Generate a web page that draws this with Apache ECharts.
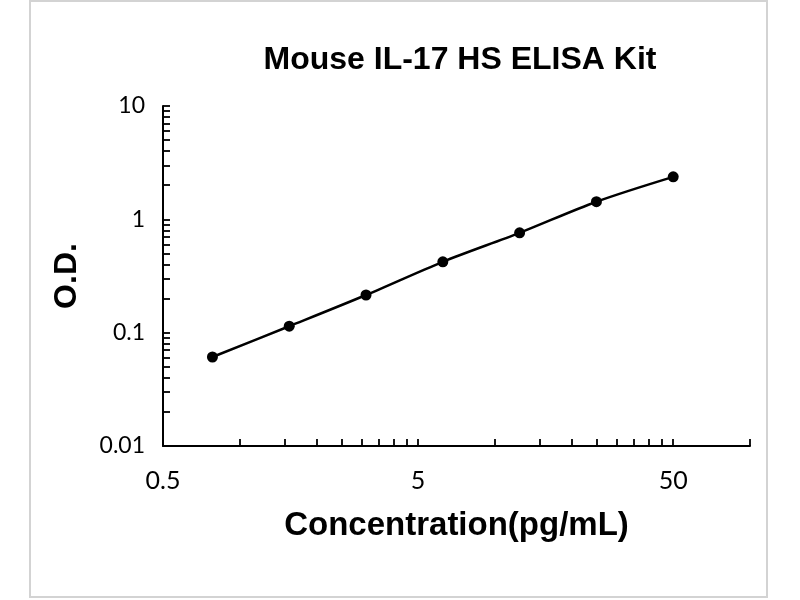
<!DOCTYPE html>
<html>
<head>
<meta charset="utf-8">
<script src="https://cdn.jsdelivr.net/npm/echarts@6/dist/echarts.min.js"></script>
<style>
  html, body { margin: 0; padding: 0; background: #ffffff; }
  #chart { width: 800px; height: 600px; }
</style>
</head>
<body>
<div id="chart"></div>
<script>
// ---- data ----
const title = 'Mouse IL-17 HS ELISA Kit';
const xName = 'Concentration(pg/mL)';
const yName = 'O.D.';
const concentrations = [0.78125, 1.5625, 3.125, 6.25, 12.5, 25, 50];
const odValues = [0.061, 0.114, 0.215, 0.422, 0.76, 1.43, 2.37];
const xTickLabels = [0.5, 5, 50];
const yTickLabels = [0.01, 0.1, 1, 10];
const xAxisMin = 0.5;
const xAxisMax = 100;
const yAxisMin = 0.01;
const yAxisMax = 10;

// ---- helpers ----
const lg = v => Math.log10(v);
function minorTicks(min, max) {
  // log-scale minor ticks: k * start for each decade starting at min
  const out = [];
  let base = min;
  while (base < max * 1.0001) {
    for (let k = 1; k <= 9; k++) {
      const v = base * k;
      if (v <= max * 1.0001) out.push(lg(v));
    }
    base *= 10;
  }
  return out;
}
function labelFor(list) {
  return function (v) {
    let best = list[0], d = Infinity;
    list.forEach(t => { const dd = Math.abs(lg(t) - v); if (dd < d) { d = dd; best = t; } });
    return String(best);
  };
}

const seriesData = concentrations.map((c, i) => [lg(c), lg(odValues[i])]);

const chart = echarts.init(document.getElementById('chart'), null, { renderer: 'canvas' });
chart.setOption({
  animation: false,
  backgroundColor: '#ffffff',
  title: {
    text: title,
    left: 455,
    top: 39,
    textAlign: 'center',
    textStyle: { fontFamily: 'Liberation Sans', fontWeight: 'bold', fontSize: 32, color: '#000' }
  },
  graphic: [{
    type: 'rect',
    silent: true,
    shape: { x: 30, y: 1, width: 737, height: 596 },
    style: { fill: 'none', stroke: '#d3d3d3', lineWidth: 2 }
  }],
  grid: { left: 163, right: 50, top: 106, bottom: 154 },
  xAxis: {
    type: 'value',
    min: lg(xAxisMin),
    max: lg(xAxisMax),
    name: xName,
    nameLocation: 'middle',
    nameGap: 63,
    nameTextStyle: { fontFamily: 'Liberation Sans', fontWeight: 'bold', fontSize: 33, color: '#000' },
    splitLine: { show: false },
    axisLine: { show: true, onZero: false, lineStyle: { color: '#000', width: 2 } },
    axisTick: { show: true, inside: true, length: 7, lineStyle: { color: '#000', width: 1.8 },
                customValues: minorTicks(xAxisMin, xAxisMax) },
    axisLabel: { show: true, margin: 22, fontFamily: 'Lato', fontSize: 25, color: '#000',
                 customValues: xTickLabels.map(lg), formatter: labelFor(xTickLabels) }
  },
  yAxis: {
    type: 'value',
    min: lg(yAxisMin),
    max: lg(yAxisMax),
    name: yName,
    nameLocation: 'middle',
    nameRotate: 90,
    nameGap: 80,
    nameTextStyle: { fontFamily: 'Liberation Sans', fontWeight: 'bold', fontSize: 32, color: '#000' },
    splitLine: { show: false },
    axisLine: { show: true, onZero: false, lineStyle: { color: '#000', width: 2 } },
    axisTick: { show: true, inside: true, length: 7, lineStyle: { color: '#000', width: 1.8 },
                customValues: minorTicks(yAxisMin, yAxisMax) },
    axisLabel: { show: true, margin: 18, fontFamily: 'Lato', fontSize: 23, color: '#000',
                 customValues: yTickLabels.map(lg), formatter: labelFor(yTickLabels) }
  },
  series: [{
    type: 'line',
    data: seriesData,
    smooth: 0.3,
    symbol: 'circle',
    symbolSize: 11,
    itemStyle: { color: '#000' },
    lineStyle: { color: '#000', width: 2.5 }
  }]
});
</script>
</body>
</html>
